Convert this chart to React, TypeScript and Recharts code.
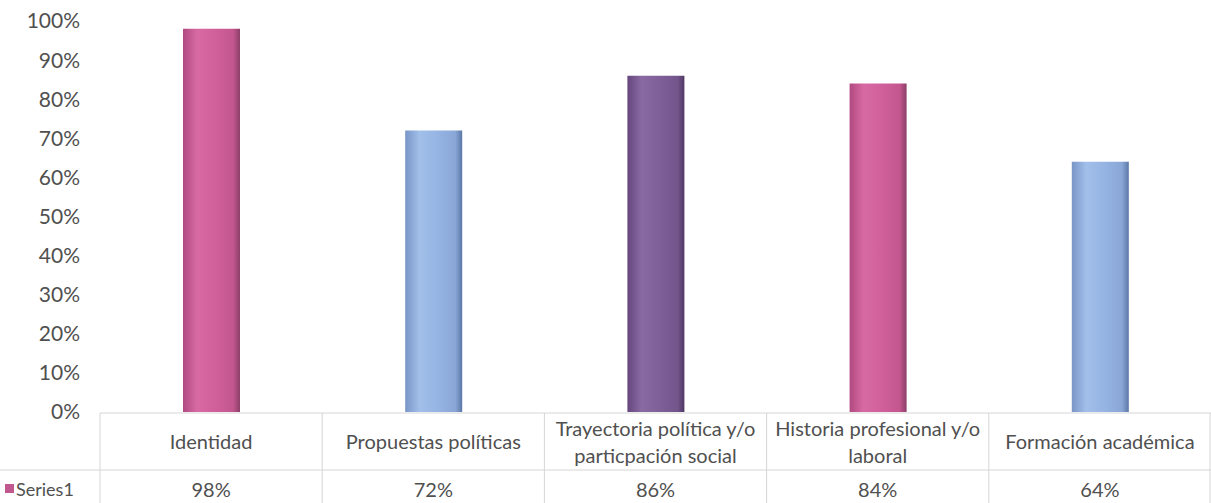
import { BarChart, Bar, XAxis, YAxis, Cell } from 'recharts';

const categories = [
  'Identidad',
  'Propuestas políticas',
  'Trayectoria política y/o\nparticpación social',
  'Historia profesional y/o\nlaboral',
  'Formación académica',
];
const series1 = [98, 72, 86, 84, 64];
const yTicks = [0, 10, 20, 30, 40, 50, 60, 70, 80, 90, 100];
const seriesName = 'Series1';

const W = 1211;
const H = 503;
const LEFT = 100;
const TOP = 21;
const BASE = 412;
const COL = (W - LEFT) / categories.length;
const FONT = 'Lato, "Open Sans", sans-serif';
const TEXT = '#505050';
const GRID = '#d6d6d6';

// pink, blue, purple, pink, blue
const palette = ['pink', 'blue', 'purple', 'pink', 'blue'];
const grads: Record<string, string[]> = {
  pink: ['#b04a80', '#d86aa3', '#cf5f99', '#c3568e', '#8c3f68'],
  blue: ['#7895c6', '#a2bfea', '#95b3e2', '#89a6d6', '#5b77a6'],
  purple: ['#65467d', '#896aa2', '#7d5e97', '#73558c', '#503864'],
};

const TableTick = (props: any) => {
  const { x, payload, index } = props;
  const lines = String(payload.value).split('\n');
  const left = x - COL / 2;
  const right = x + COL / 2;
  const midY = 442;
  return (
    <g>
      <line x1={left} y1={BASE + 1} x2={right} y2={BASE + 1} stroke={GRID} />
      <line x1={left} y1={470} x2={right} y2={470} stroke={GRID} />
      <line x1={left} y1={BASE + 1} x2={left} y2={H} stroke={GRID} />
      {index === categories.length - 1 && (
        <line x1={right - 1} y1={BASE + 1} x2={right - 1} y2={H} stroke={GRID} />
      )}
      {index === 0 && (
        <g>
          <line x1={0} y1={470} x2={left} y2={470} stroke={GRID} />
          <rect x={5} y={484} width={9} height={9} fill="#c0578f" />
          <text x={16} y={496} fontSize={18} fill={TEXT} fontFamily={FONT}>{seriesName}</text>
        </g>
      )}
      <text x={x} textAnchor="middle" fontSize={20} fill={TEXT} fontFamily={FONT}>
        {lines.map((l, i) => (
          <tspan key={i} x={x} y={midY + 7 + (i - (lines.length - 1) / 2) * 27}>{l}</tspan>
        ))}
      </text>
      <text x={x} y={497} textAnchor="middle" fontSize={20} fill={TEXT} fontFamily={FONT}>
        {series1[index]}%
      </text>
    </g>
  );
};

export default function App() {
  const data = categories.map((c, i) => ({ name: c, value: series1[i] }));

  return (
    <div style={{ position: 'absolute', left: 0, top: 0, width: W, height: H, background: '#fff' }}>
      <BarChart
        width={W}
        height={H}
        data={data}
        margin={{ top: TOP, right: 0, left: 0, bottom: 0 }}
        barCategoryGap={0}
      >
        <defs>
          {Object.entries(grads).map(([k, s]) => (
            <linearGradient key={k} id={`g-${k}`} x1="0" y1="0" x2="1" y2="0">
              <stop offset="0%" stopColor={s[0]} />
              <stop offset="25%" stopColor={s[1]} />
              <stop offset="60%" stopColor={s[2]} />
              <stop offset="88%" stopColor={s[3]} />
              <stop offset="100%" stopColor={s[4]} />
            </linearGradient>
          ))}
        </defs>
        <YAxis
          width={LEFT}
          domain={[0, 100]}
          ticks={yTicks}
          tickFormatter={(v) => `${v}%`}
          axisLine={false}
          tickLine={false}
          tickMargin={14}
          interval={0}
          tick={{ fontSize: 21, fill: TEXT, fontFamily: FONT }}
        />
        <XAxis
          dataKey="name"
          axisLine={false}
          tickLine={false}
          interval={0}
          height={H - BASE}
          tick={<TableTick />}
        />
        <Bar dataKey="value" barSize={57} isAnimationActive={false}>
          {data.map((_, i) => (
            <Cell key={i} fill={`url(#g-${palette[i]})`} />
          ))}
        </Bar>
      </BarChart>
    </div>
  );
}
